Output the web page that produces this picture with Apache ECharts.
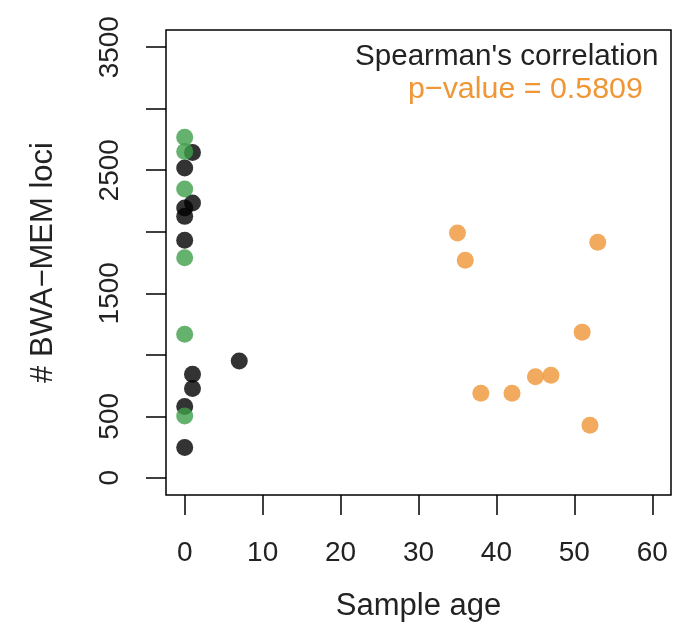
<!DOCTYPE html>
<html>
<head>
<meta charset="utf-8">
<script src="https://cdn.jsdelivr.net/npm/echarts@6/dist/echarts.min.js"></script>
<style>
html,body{margin:0;padding:0;background:#fff;}
#chart{width:677px;height:627px;}
</style>
</head>
<body>
<div id="chart"></div>
<script>
// Data (sample age, # BWA-MEM loci)
const blackAges = [1, 0, 1, 0, 0, 0, 7, 1, 1, 0, 0];
const blackLoci = [2644, 2518, 2234, 2193, 2125, 1931, 949, 841, 725, 579, 247];
const greenAges = [0, 0, 0, 0, 0, 0];
const greenLoci = [2769, 2652, 2347, 1788, 1166, 503];
const orangeAges = [35, 36, 53, 51, 45, 47, 38, 42, 52];
const orangeLoci = [1990, 1768, 1914, 1184, 822, 833, 687, 687, 427];
const xTicks = [0, 10, 20, 30, 40, 50, 60];
const yTicks = [0, 500, 1000, 1500, 2000, 2500, 3000, 3500];
const yTickLabels = [0, 500, 1500, 2500, 3500];
const titleLine1 = "Spearman's correlation";
const titleLine2 = "p\u2212value = 0.5809";

const zip = (a, b) => a.map((v, i) => [v, b[i]]);
const FONT = '"Liberation Sans", Arial, Helvetica, sans-serif';
const BLACK = '#000000', GREEN = '#3f9f4a', ORANGE = '#ef9636';
const plain = v => String(v);

const chart = echarts.init(document.getElementById('chart'), null, {renderer: 'canvas'});
chart.setOption({
  animation: false,
  backgroundColor: '#ffffff',
  grid: {left: 166, right: 6, top: 30, bottom: 131, show: true, borderColor: '#000', borderWidth: 1.5, backgroundColor: 'transparent'},
  xAxis: {
    type: 'value', min: -2.4, max: 62.4,
    name: 'Sample age', nameLocation: 'middle', nameGap: 96,
    nameTextStyle: {fontFamily: FONT, fontSize: 31, color: '#222'},
    axisLine: {show: false, onZero: false},
    splitLine: {show: false},
    axisTick: {show: true, length: 20, inside: false, customValues: xTicks, lineStyle: {color: '#000', width: 1.5}},
    axisLabel: {customValues: xTicks, formatter: plain, fontFamily: FONT, fontSize: 28, color: '#222', margin: 44}
  },
  yAxis: {
    type: 'value', min: -140, max: 3640,
    name: '# BWA\u2212MEM loci', nameLocation: 'middle', nameGap: 107, nameRotate: 90,
    nameTextStyle: {fontFamily: FONT, fontSize: 31, color: '#222'},
    axisLine: {show: false, onZero: false},
    splitLine: {show: false},
    axisTick: {show: true, length: 20, inside: false, customValues: yTicks, lineStyle: {color: '#000', width: 1.5}},
    axisLabel: {customValues: yTickLabels, formatter: plain, rotate: 90, fontFamily: FONT, fontSize: 28, color: '#222', margin: 42}
  },
  series: [
    {type: 'scatter', data: zip(blackAges, blackLoci), symbolSize: 17, itemStyle: {color: BLACK}, z: 2},
    {type: 'scatter', data: zip(greenAges, greenLoci), symbolSize: 17, itemStyle: {color: GREEN}, z: 3},
    {type: 'scatter', data: zip(orangeAges, orangeLoci), symbolSize: 17, itemStyle: {color: ORANGE}, z: 3}
  ],
  graphic: [
    {type: 'text', left: 355, top: 42, style: {text: titleLine1, font: '29.6px ' + FONT, fill: '#222'}},
    {type: 'text', left: 408, top: 75, style: {text: titleLine2, font: '30.4px ' + FONT, fill: ORANGE}}
  ]
});
</script>
</body>
</html>
